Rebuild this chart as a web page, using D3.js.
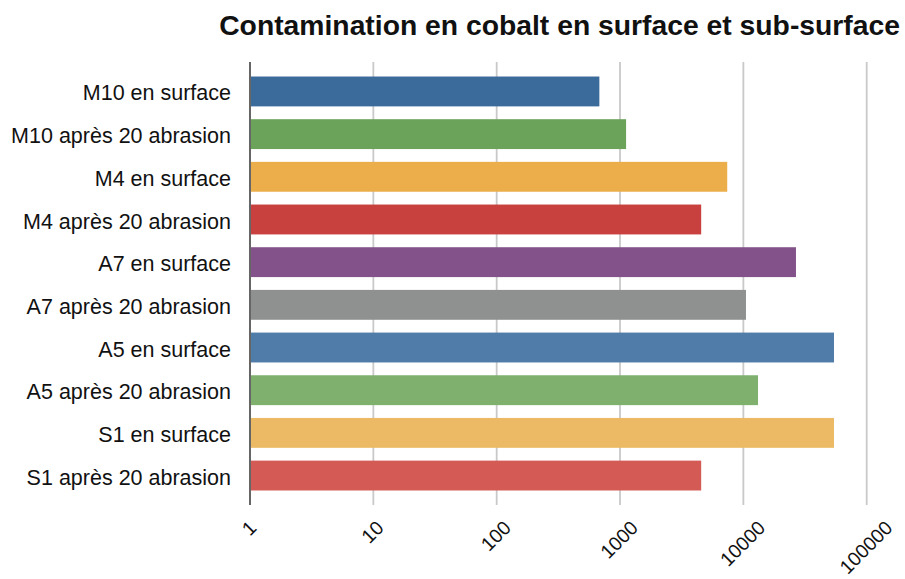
<!DOCTYPE html>
<html>
<head>
<meta charset="utf-8">
<script src="https://cdn.jsdelivr.net/npm/d3@7"></script>
<style>
  html, body { margin: 0; padding: 0; background: #fff; }
  svg { display: block; }
  text { font-family: "Liberation Sans", Arial, Helvetica, sans-serif; fill: #111; }
</style>
</head>
<body>
<svg id="chart" width="905" height="579"></svg>
<script>
// Cobalt contamination per sample, at the surface and after 20 abrasion passes
const categories = [
  "M10 en surface",
  "M10 après 20 abrasion",
  "M4 en surface",
  "M4 après 20 abrasion",
  "A7 en surface",
  "A7 après 20 abrasion",
  "A5 en surface",
  "A5 après 20 abrasion",
  "S1 en surface",
  "S1 après 20 abrasion"
];
const values = [680, 1120, 7400, 4550, 26700, 10500, 54300, 13150, 54300, 4550];
const colors = [
  "#3b6b9b", "#6ca35a", "#ebae4b", "#c9413f", "#83528a",
  "#8f9090", "#4f7ca8", "#7fb06e", "#ecb964", "#d45a56"
];
const tickValues = [1, 10, 100, 1000, 10000, 100000];
const tickLabels = ["1", "10", "100", "1000", "10000", "100000"];
const title = "Contamination en cobalt en surface et sub-surface";

const svg = d3.select("#chart");
const plot = { left: 250, right: 866.7, top: 62, bottom: 505 };

const x = d3.scaleLog().domain([1, 100000]).range([plot.left, plot.right]);
const y = d3.scaleBand().domain(categories)
  .range([plot.top, plot.bottom])
  .paddingInner(0.3).paddingOuter(0.34);

// Title
svg.append("text")
  .attr("x", 900).attr("y", 35)
  .attr("text-anchor", "end")
  .style("font-weight", "bold")
  .style("font-size", "28.3px")
  .text(title);

// Vertical grid lines
svg.append("g")
  .selectAll("line")
  .data(tickValues.slice(1))
  .join("line")
  .attr("x1", d => x(d)).attr("x2", d => x(d))
  .attr("y1", plot.top).attr("y2", plot.bottom)
  .attr("stroke", "#c9c9c9")
  .attr("stroke-width", 1.8);

// Bars
svg.append("g")
  .selectAll("rect")
  .data(categories)
  .join("rect")
  .attr("x", plot.left)
  .attr("y", d => y(d))
  .attr("height", y.bandwidth())
  .attr("width", (d, i) => x(values[i]) - plot.left)
  .attr("fill", (d, i) => colors[i]);

// Category axis
const yAxis = svg.append("g")
  .attr("transform", `translate(${plot.left},0)`)
  .call(d3.axisLeft(y).tickSize(0).tickPadding(19));
yAxis.select(".domain").remove();
yAxis.selectAll("text")
  .style("font-size", "21.5px")
  .style("fill", "#111")
  .attr("dy", "0.42em")
  .attr("font-family", null);

svg.append("line")
  .attr("x1", plot.left).attr("x2", plot.left)
  .attr("y1", plot.top).attr("y2", plot.bottom)
  .attr("stroke", "#666")
  .attr("stroke-width", 2);

// Value axis labels, rotated and hung below the plot
const labelTop = 519;
const labelSize = 19.5;
const xLabels = svg.append("g")
  .selectAll("text")
  .data(tickValues)
  .join("text")
  .style("font-size", labelSize + "px")
  .attr("text-anchor", "middle")
  .attr("dominant-baseline", "central")
  .text((d, i) => tickLabels[i]);

xLabels.each(function (d) {
  const len = this.getComputedTextLength();
  const half = (len + labelSize * 0.75) * Math.SQRT1_2 / 2;
  const cx = x(d) - 1;
  const cy = labelTop + half;
  d3.select(this)
    .attr("x", cx).attr("y", cy)
    .attr("transform", `rotate(-45 ${cx} ${cy})`);
});
</script>
</body>
</html>
